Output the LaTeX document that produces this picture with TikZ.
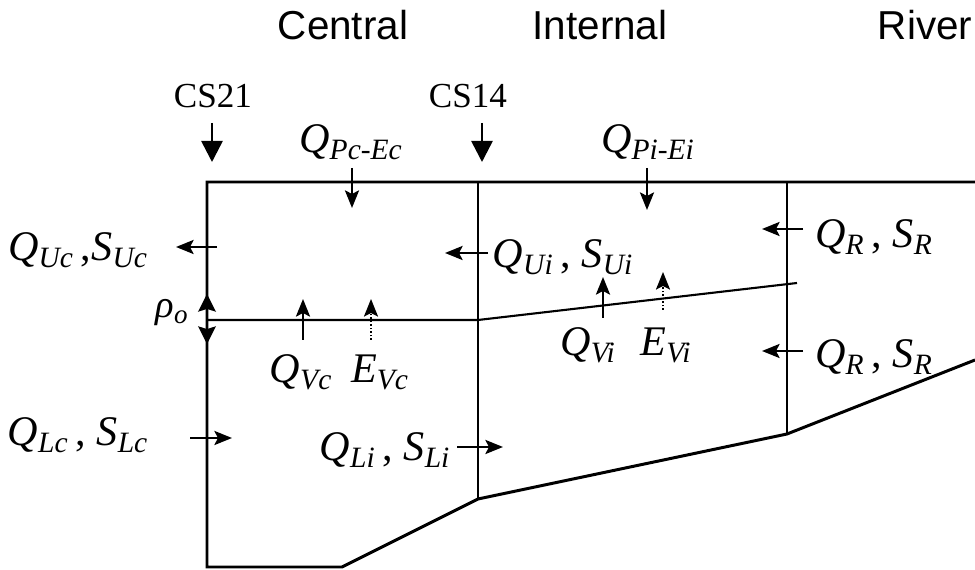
\documentclass[tikz,border=0pt]{standalone}
\usepackage{fontspec}
\setmainfont{Liberation Serif}
\setsansfont{Liberation Sans}
\usetikzlibrary{arrows.meta}
\newcommand{\flx}[2]{\textit{#1}\textsubscript{\textit{#2}}}

\tikzset{
  wall/.style={line width=1.7pt},
  flux/.style={line width=1.3pt,-{Stealth[length=10pt,width=8pt,inset=2pt]}},
  evap/.style={line width=1pt,densely dotted,-{Stealth[length=10pt,width=8pt,inset=2pt]}},
  bothways/.style={line width=1.3pt,{Stealth[length=10pt,width=10pt,inset=1.5pt]}-{Stealth[length=10pt,width=10pt,inset=1.5pt]}},
  section/.style={line width=1.5pt,-{Triangle[length=12pt,width=12pt]}},
  lbl/.style={inner sep=0pt,anchor=base,font=\fontsize{24}{28}\selectfont},
  head/.style={inner sep=0pt,anchor=base,font=\sffamily\fontsize{23}{26}\selectfont},
  cs/.style={inner sep=0pt,anchor=base,font=\fontsize{20}{22}\selectfont}
}

\begin{document}
\begin{tikzpicture}[x=0.02cm,y=-0.02cm]
  \useasboundingbox (0,0) rectangle (975,570);

  % reach outline
  \coordinate (topL) at (207,182);
  \coordinate (topR) at (975,182);
  \coordinate (botL) at (207,567);
  \coordinate (toe) at (342,567);
  \coordinate (cs14b) at (478,499);
  \coordinate (rivb) at (787,434);
  \coordinate (bankR) at (975,360);
  \coordinate (cs14t) at (478,182);
  \coordinate (rivt) at (787,182);
  \coordinate (ifL) at (207,320);
  \coordinate (ifM) at (478,320);
  \coordinate (ifR) at (797,283);

  \draw[wall] (topR) -- (topL) -- (botL) -- (toe) -- (cs14b) -- (rivb) -- (bankR);
  \draw[wall] (cs14t) -- (cs14b);
  \draw[wall] (rivt) -- (rivb);
  \draw[line width=1.2pt] (ifL) -- (ifM) -- (ifR);

  % headers
  \node[head] (hc) at (343,40) {Central};
  \node[head] (hi) at (600,40) {Internal};
  \node[head] (hr) at (925,40) {River};

  % cross sections
  \node[cs] (cs21) at (213,108) {CS21};
  \node[cs] (cs14) at (468,108) {CS14};
  \coordinate (a21) at (212,123);
  \coordinate (b21) at (212,162);
  \coordinate (a14) at (482,123);
  \coordinate (b14) at (482,162);
  \draw[section] (a21) -- (b21);
  \draw[section] (a14) -- (b14);

  % precipitation - evaporation
  \node[lbl] (qpc) at (351,153) {\flx{Q}{Pc-Ec}};
  \node[lbl] (qpi) at (648,153) {\flx{Q}{Pi-Ei}};
  \coordinate (pc1) at (352,168);
  \coordinate (pc2) at (352,208);
  \coordinate (pi1) at (647,168);
  \coordinate (pi2) at (647,210);
  \draw[flux] (pc1) -- (pc2);
  \draw[flux] (pi1) -- (pi2);

  % upper layer outflow
  \node[lbl] (quc) at (78,261) {\flx{Q}{Uc}\,,\flx{S}{Uc}};
  \node[lbl] (qui) at (563,268) {\flx{Q}{Ui}\,, \flx{S}{Ui}};
  \coordinate (uc1) at (217,247);
  \coordinate (uc2) at (176,247);
  \coordinate (ui1) at (488,253);
  \coordinate (ui2) at (445,253);
  \draw[flux] (uc1) -- (uc2);
  \draw[flux] (ui1) -- (ui2);

  % interface
  \node[lbl,font=\fontsize{22}{24}\selectfont] (rho) at (172,318) {\flx{ρ}{o}};
  \coordinate (ro1) at (207,294);
  \coordinate (ro2) at (207,344);
  \draw[bothways] (ro1) -- (ro2);

  % vertical exchange
  \node[lbl] (qvc) at (301,383) {\flx{Q}{Vc}};
  \node[lbl] (evc) at (380,383) {\flx{E}{Vc}};
  \node[lbl] (qvi) at (588,356) {\flx{Q}{Vi}};
  \node[lbl] (evi) at (666,356) {\flx{E}{Vi}};
  \coordinate (vc1) at (303,340);
  \coordinate (vc2) at (303,299);
  \coordinate (ec1) at (371,340);
  \coordinate (ec2) at (371,299);
  \coordinate (vi1) at (603,318);
  \coordinate (vi2) at (603,277);
  \coordinate (ei1) at (663,310);
  \coordinate (ei2) at (663,272);
  \draw[flux] (vc1) -- (vc2);
  \draw[evap] (ec1) -- (ec2);
  \draw[flux] (vi1) -- (vi2);
  \draw[evap] (ei1) -- (ei2);

  % river boundary
  \node[lbl] (qr1) at (874,248) {\flx{Q}{R}\,, \flx{S}{R}};
  \node[lbl] (qr2) at (874,368) {\flx{Q}{R}\,, \flx{S}{R}};
  \coordinate (r1a) at (803,229);
  \coordinate (r1b) at (762,229);
  \coordinate (r2a) at (803,351);
  \coordinate (r2b) at (762,351);
  \draw[flux] (r1a) -- (r1b);
  \draw[flux] (r2a) -- (r2b);

  % lower layer inflow
  \node[lbl] (qlc) at (78,446) {\flx{Q}{Lc}\,, \flx{S}{Lc}};
  \node[lbl] (qli) at (385,461) {\flx{Q}{Li}\,, \flx{S}{Li}};
  \coordinate (lc1) at (190,438);
  \coordinate (lc2) at (232,438);
  \coordinate (li1) at (457,447);
  \coordinate (li2) at (503,447);
  \draw[flux] (lc1) -- (lc2);
  \draw[flux] (li1) -- (li2);
\end{tikzpicture}
\end{document}
